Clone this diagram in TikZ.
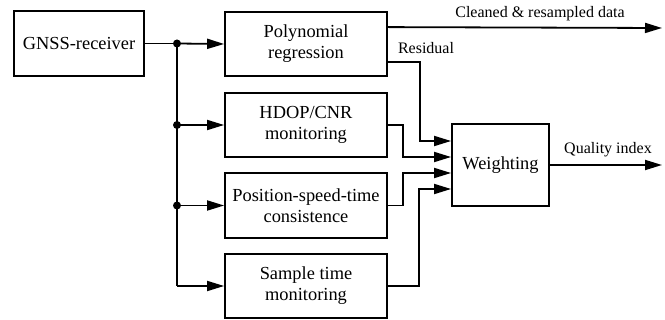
\documentclass[tikz,border=0pt]{standalone}
\usepackage{fontspec}
\setmainfont{Liberation Serif}
\newfontfamily\tms{Liberation Serif}
\usetikzlibrary{arrows.meta,calc}
\begin{document}
\begin{tikzpicture}[x=0.5pt,y=-0.5pt,
  blk/.style={draw,line width=0.9pt,align=center,inner sep=0pt,font=\tms\fontsize{9.2}{10.5}\selectfont},
  ln/.style={line width=0.9pt},
  arr/.style={line width=0.9pt,-{Triangle[length=8.5pt,width=5pt]}},
  lbl/.style={font=\tms\fontsize{8}{9.5}\selectfont,inner sep=0pt},
  dot/.style={circle,fill,inner sep=0pt,minimum size=4pt}]
\useasboundingbox (0,0) rectangle (665,320);
\node[blk,minimum width=65pt,minimum height=32.5pt] (gnss) at (79,43.5) {GNSS-receiver};
\node[blk,minimum width=81pt,minimum height=32pt] (poly) at (306,44) {Polynomial\\regression};
\node[blk,minimum width=81pt,minimum height=32pt] (hdop) at (306,125) {HDOP/CNR\\monitoring};
\node[blk,minimum width=81pt,minimum height=32.5pt] (pos) at (306,205.5) {Position-speed-time\\consistence};
\node[blk,minimum width=81pt,minimum height=32pt] (samp) at (306,286) {Sample time\\monitoring};
\node[blk,minimum width=48.5pt,minimum height=41pt] (w) at (500.5,165) {Weighting};
\node[dot] (j1) at (177,43.5) {};
\node[dot] (j2) at (177,125) {};
\node[dot] (j3) at (177,205.5) {};
\coordinate (j4) at (177,286);
\draw[ln] (gnss.east) -- (j1.center);
\draw[ln] (j1.center) -- (j4);
\draw[arr] (j1.center) -- (poly.west);
\draw[arr] (j2.center) -- (hdop.west);
\draw[arr] (j3.center) -- (pos.west);
\draw[arr] (j4) -- (samp.west);
% outputs
\coordinate (cl) at ($(poly.north east)+(0,16)$);
\coordinate (clend) at (662,28);
\draw[arr] (cl) -- (clend);
\node[lbl] (cltxt) at (540,14) {Cleaned \& resampled data};
\coordinate (res) at ($(poly.south east)+(0,-15)$);
\node[lbl] (restxt) at (426,48) {Residual};
\coordinate (w1) at ($(w.west)+(0,-24)$);
\coordinate (w2) at ($(w.west)+(0,-8)$);
\coordinate (w3) at ($(w.west)+(0,8)$);
\coordinate (w4) at ($(w.west)+(0,24)$);
\draw[arr] (res) -| (420,141) -- (w1);
\draw[arr] (hdop.east) -| (403,157) -- (w2);
\draw[arr] (pos.east) -| (403,173) -- (w3);
\draw[arr] (samp.east) -| (419,189) -- (w4);
\coordinate (qend) at (662,165);
\draw[arr] (w.east) -- (qend);
\node[lbl] (qtxt) at (608,150) {Quality index};
\end{tikzpicture}
\end{document}
